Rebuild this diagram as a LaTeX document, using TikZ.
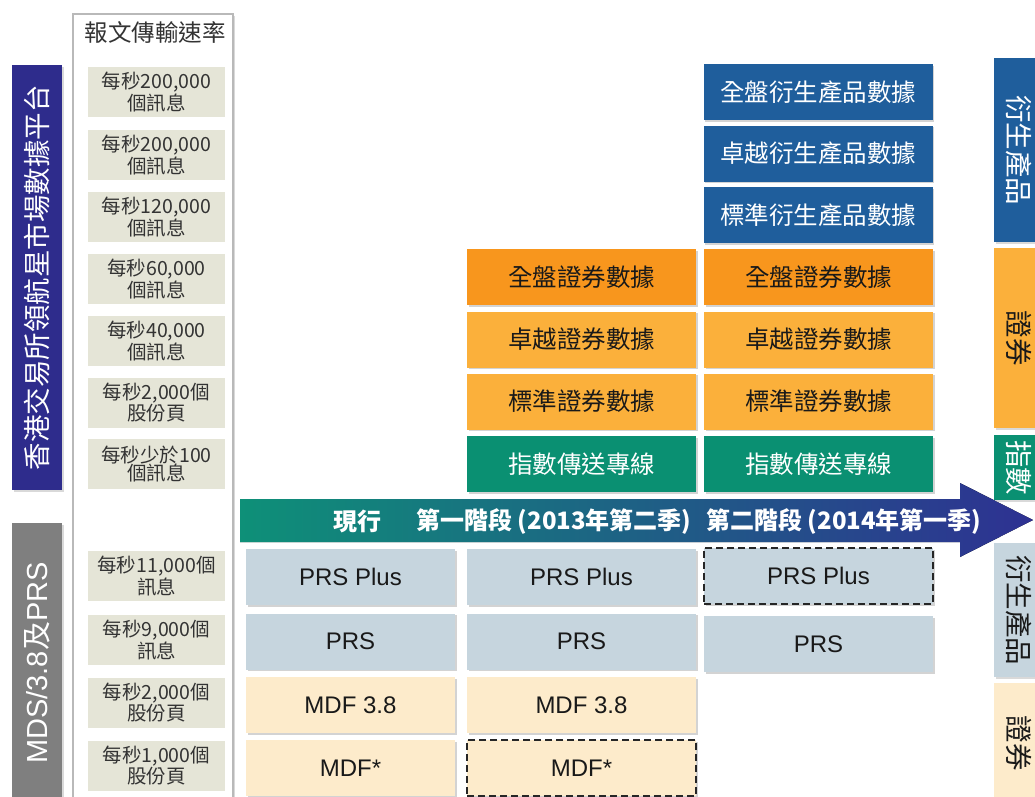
\documentclass[tikz,border=0pt]{standalone}
\usepackage{fontspec}
\setmainfont{Noto Sans CJK TC}
\newfontfamily\latinfont{Liberation Sans}
\usetikzlibrary{shadows, positioning}
\definecolor{hkexnavy}{HTML}{2E2C8C}
\definecolor{tabgrey}{HTML}{7F7F7F}
\definecolor{derivblue}{HTML}{1F5E9C}
\definecolor{fullorange}{HTML}{F8961D}
\definecolor{secorange}{HTML}{FBB03B}
\definecolor{idxgreen}{HTML}{0A9072}
\definecolor{prsblue}{HTML}{C6D5DE}
\definecolor{mdfcream}{HTML}{FDEBCB}
\definecolor{ratebeige}{HTML}{E5E5D7}
\definecolor{arrowteal}{HTML}{0E9078}
\definecolor{arrowblue}{HTML}{2E3192}
\tikzset{
  layer/.style={
    rectangle, minimum height=56pt, inner sep=0pt, text centered,
    drop shadow={shadow xshift=1.5pt,shadow yshift=-1.5pt,opacity=0.35}
  },
  derivbox/.style={
    layer, minimum width=229pt, fill=derivblue, text=white,
    font=\fontsize{24.5}{27}\selectfont
  },
  secbox/.style={
    layer, minimum width=229pt, fill=secorange, text=black!90,
    font=\fontsize{24.5}{27}\selectfont
  },
  idxbox/.style={
    layer, minimum width=229pt, fill=idxgreen, text=white,
    font=\fontsize{24.5}{27}\selectfont
  },
  prsbox/.style={
    layer, fill=prsblue, text=black!90,
    font=\latinfont\fontsize{24}{26}\selectfont
  },
  mdfbox/.style={
    layer, fill=mdfcream, text=black!90,
    font=\latinfont\fontsize{24}{26}\selectfont
  },
  planned/.style={
    draw=black!85, line width=1.8pt, dash pattern=on 7pt off 4pt
  },
  ratecell/.style={
    rectangle, minimum width=137pt, minimum height=50pt, inner sep=0pt,
    fill=ratebeige, align=center, text=black!80,
    font=\fontsize{19.5}{18.5}\selectfont
  },
  sidetab/.style={
    rectangle, minimum height=50pt, inner sep=0pt, text centered,
    font=\fontsize{27.5}{29}\selectfont,
    drop shadow={shadow xshift=1.5pt,shadow yshift=-1.5pt,opacity=0.3}
  },
  phase/.style={
    text=white, font=\bfseries\fontsize{24}{26}\selectfont
  }
}

\begin{document}
\begin{tikzpicture}[x=1pt, y=-1pt]
  \clip (0,0) rectangle (1035,796);

  % Rate column
  \node[draw=gray!55, line width=2pt, fill=white, minimum width=160pt,
        minimum height=800pt, inner sep=0pt,
        drop shadow={shadow xshift=1.5pt,shadow yshift=-1.5pt,opacity=0.3}]
        (ratecol) at (153,414) {};
  \node[font=\fontsize{23.5}{25}\selectfont, text=black!80] (rateheader) at (155,33) {報文傳輸速率};
  \node[ratecell] (rate1) at (156.5,92) {每秒200,000\\個訊息};
  \node[ratecell] (rate2) at (156.5,155) {每秒200,000\\個訊息};
  \node[ratecell] (rate3) at (156.5,217) {每秒120,000\\個訊息};
  \node[ratecell] (rate4) at (156.5,279) {每秒60,000\\個訊息};
  \node[ratecell] (rate5) at (156.5,341) {每秒40,000\\個訊息};
  \node[ratecell] (rate6) at (156.5,403) {每秒2,000個\\股份頁};
  \node[ratecell] (rate7) at (156.5,464) {每秒少於100\\個訊息};
  \node[ratecell] (rate8) at (156.5,576) {每秒11,000個\\訊息};
  \node[ratecell] (rate9) at (156.5,640) {每秒9,000個\\訊息};
  \node[ratecell] (rate10) at (156.5,703) {每秒2,000個\\股份頁};
  \node[ratecell] (rate11) at (156.5,766) {每秒1,000個\\股份頁};

  % Left platform tabs
  \node[sidetab, fill=hkexnavy, text=white, minimum width=425pt, rotate=90]
        (navtab) at (37,277.5) {香港交易所領航星市場數據平台};
  \node[sidetab, fill=tabgrey, text=white, minimum width=280pt, rotate=90,
        font=\fontsize{29}{31}\selectfont]
        (legacytab) at (37,663) {{\latinfont MDS/3.8}及{\latinfont PRS}};

  % Derivatives data (phase 2)
  \node[derivbox] (derivfull) at (818,92) {全盤衍生產品數據};
  \node[derivbox] (derivprem) at (818,153.5) {卓越衍生產品數據};
  \node[derivbox] (derivstd) at (818,215) {標準衍生產品數據};

  % Securities and index data
  \node[secbox, fill=fullorange] (secfull1) at (581.5,277) {全盤證券數據};
  \node[secbox] (secprem1) at (581.5,339.5) {卓越證券數據};
  \node[secbox] (secstd1) at (581.5,401.5) {標準證券數據};
  \node[idxbox] (idx1) at (581.5,464) {指數傳送專線};
  \node[secbox, fill=fullorange] (secfull2) at (818.5,277) {全盤證券數據};
  \node[secbox] (secprem2) at (818.5,339.5) {卓越證券數據};
  \node[secbox] (secstd2) at (818.5,401.5) {標準證券數據};
  \node[idxbox] (idx2) at (818.5,464) {指數傳送專線};

  % Timeline arrow
  \fill[left color=arrowteal, right color=arrowblue]
    (240,499) -- (960,499) -- (960,483) -- (1033,520) -- (960,557)
    -- (960,542) -- (240,542) -- cycle;
  \node[phase] (lblnow) at (357,521) {現行};
  \node[phase] (lblphaseone) at (554,521) {第一階段 (2013年第二季)};
  \node[phase] (lblphasetwo) at (844,521) {第二階段 (2014年第一季)};

  % Legacy services
  \node[prsbox, minimum width=209pt] (prsplus0) at (350.5,577) {PRS Plus};
  \node[prsbox, minimum width=209pt] (prs0) at (350.5,641.5) {PRS};
  \node[mdfbox, minimum width=209pt] (mdfthree0) at (350.5,705) {MDF 3.8};
  \node[mdfbox, minimum width=209pt] (mdf0) at (350.5,768) {MDF*};
  \node[prsbox, minimum width=229pt] (prsplus1) at (581.5,577) {PRS Plus};
  \node[prsbox, minimum width=229pt] (prs1) at (581.5,641.5) {PRS};
  \node[mdfbox, minimum width=229pt] (mdfthree1) at (581.5,705) {MDF 3.8};
  \node[mdfbox, planned, minimum width=229pt] (mdf1) at (581.5,768) {MDF*};
  \node[prsbox, planned, minimum width=229pt] (prsplus2) at (818.5,576) {PRS Plus};
  \node[prsbox, minimum width=229pt] (prs2) at (818.5,644) {PRS};

  % Right category tabs
  \node[sidetab, fill=derivblue, text=white, minimum width=184pt, rotate=-90]
        (tabderiv) at (1019,150) {衍生產品};
  \node[sidetab, fill=secorange, text=black!90, minimum width=180pt, rotate=-90]
        (tabsec) at (1019,338) {證券};
  \node[sidetab, fill=idxgreen, text=white, minimum width=65pt, rotate=-90]
        (tabidx) at (1019,467.5) {指數};
  \node[sidetab, fill=prsblue, text=black!90, minimum width=134pt, rotate=-90]
        (tabprs) at (1019,610) {衍生產品};
  \node[sidetab, fill=mdfcream, text=black!90, minimum width=120pt, rotate=-90]
        (tabmdf) at (1019,743) {證券};
\end{tikzpicture}
\end{document}
